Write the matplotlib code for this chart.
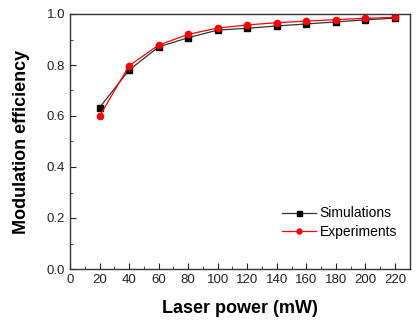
import matplotlib
matplotlib.use("Agg")
import matplotlib.pyplot as plt
from matplotlib.ticker import MultipleLocator

plt.rcParams['font.family'] = ['Liberation Sans', 'DejaVu Sans']

power = [20, 40, 60, 80, 100, 120, 140, 160, 180, 200, 220]
simulations = [0.633, 0.780, 0.871, 0.907, 0.937, 0.944, 0.953, 0.961, 0.969, 0.977, 0.984]
experiments = [0.599, 0.797, 0.878, 0.920, 0.945, 0.957, 0.966, 0.972, 0.978, 0.983, 0.987]

fig = plt.figure(figsize=(4.18, 3.22), dpi=100)
ax = fig.add_axes([70/418, 1 - 269/322, (409.7-70)/418, (269-14)/322])

ax.plot(power, simulations, color='#333333', lw=0.9, marker='s', ms=4.5,
        mfc='black', mec='black', label='Simulations')
ax.plot(power, experiments, color='red', lw=0.9, marker='o', ms=4.5,
        mfc='red', mec='red', label='Experiments')

ax.set_xlim(0, 230)
ax.set_ylim(0, 1.0)
ax.xaxis.set_major_locator(MultipleLocator(20))
ax.xaxis.set_minor_locator(MultipleLocator(10))
ax.yaxis.set_major_locator(MultipleLocator(0.2))
ax.yaxis.set_minor_locator(MultipleLocator(0.1))
ax.yaxis.set_major_formatter(matplotlib.ticker.FormatStrFormatter('%.1f'))
ax.tick_params(which='both', direction='in', top=False, right=False, labelsize=9.5,
               colors='#222222')
ax.tick_params(which='major', length=4)
ax.tick_params(which='minor', length=2.5)
for s in ax.spines.values():
    s.set_linewidth(1.0)
    s.set_color('#333333')

ax.set_xlabel('Laser power (mW)', fontsize=13, fontweight='bold', labelpad=10)
ax.set_ylabel('Modulation efficiency', fontsize=13, fontweight='bold', labelpad=12)

ax.legend(loc='lower right', bbox_to_anchor=(1.0, 0.07), frameon=False,
          fontsize=10, handlelength=2.4, handletextpad=0.3, labelspacing=0.3,
          markerscale=0.8)

fig.savefig('out.png', dpi=100)
